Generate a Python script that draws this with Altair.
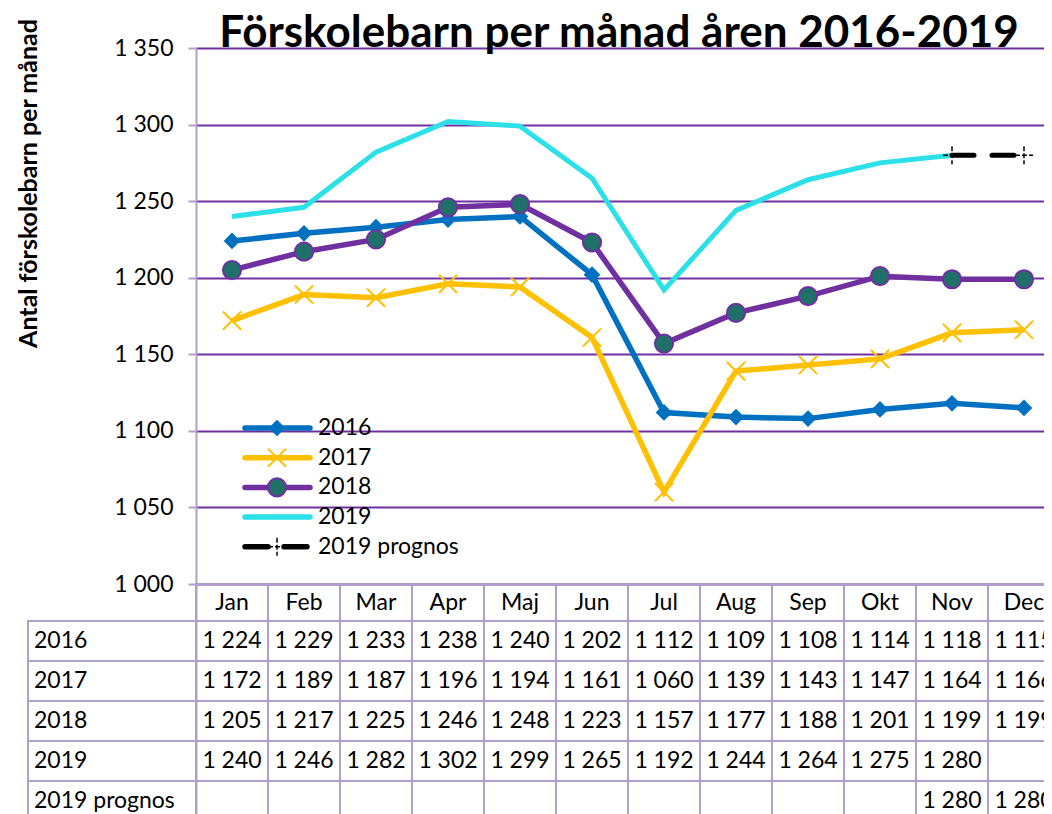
import altair as alt
import pandas as pd

months = ["Jan", "Feb", "Mar", "Apr", "Maj", "Jun", "Jul", "Aug", "Sep", "Okt", "Nov", "Dec"]
v2016 = [1224, 1229, 1233, 1238, 1240, 1202, 1112, 1109, 1108, 1114, 1118, 1115]
v2017 = [1172, 1189, 1187, 1196, 1194, 1161, 1060, 1139, 1143, 1147, 1164, 1166]
v2018 = [1205, 1217, 1225, 1246, 1248, 1223, 1157, 1177, 1188, 1201, 1199, 1199]
v2019 = [1240, 1246, 1282, 1302, 1299, 1265, 1192, 1244, 1264, 1275, 1280, None]
vprog = [None] * 10 + [1280, 1280]
series_names = ["2016", "2017", "2018", "2019", "2019 prognos"]
series_vals = [v2016, v2017, v2018, v2019, vprog]
yticks = list(range(1000, 1351, 50))
title_text = "Förskolebarn per månad åren 2016-2019"

BLUE, AMBER, PURPLE, CYAN, BLACK = "#0070C0", "#FFC000", "#7030A0", "#2CE0E8", "#000000"
TEAL = "#1F7068"
LIGHT = "#B09FCA"
FONT = "Lato"

W, H = 864, 766
PX_PER_UNIT = 536 / 350
ymin = 1350 - H / PX_PER_UNIT

rows = []
for name, vals in zip(series_names, series_vals):
    for m, v in zip(months, vals):
        if v is not None:
            rows.append({"series": name, "month": m, "value": v})
df = pd.DataFrame(rows)

xenc = alt.X("month:N", sort=months, axis=None,
             scale=alt.Scale(domain=months, paddingInner=0, paddingOuter=0))
yscale = alt.Scale(domain=[ymin, 1350], nice=False, zero=False)
yaxis = alt.Axis(values=yticks,
                 labelExpr="replace(format(datum.value, ','), ',', ' ')",
                 labelFont=FONT, labelFontSize=23, labelColor="black", labelPadding=15,
                 tickColor=LIGHT, tickSize=8, tickWidth=2,
                 domainColor=LIGHT, domainWidth=2,
                 gridColor=PURPLE, gridWidth=2,
                 title="Antal förskolebarn per månad", titleFont=FONT, titleFontSize=25,
                 titleFontWeight="bold", titleColor="black", titleAngle=270,
                 titleX=-168, titleY=135, titleAlign="center", titleBaseline="middle")


def sub(name):
    return alt.Chart(df).transform_filter(alt.datum.series == name)


yenc = alt.Y("value:Q", scale=yscale, axis=yaxis)

l2016 = sub("2016").mark_line(color=BLUE, strokeWidth=5.5).encode(x=xenc, y=yenc)
p2016 = sub("2016").mark_point(shape="diamond", filled=True, color=BLUE, size=280, opacity=1).encode(x=xenc, y=yenc)
l2017 = sub("2017").mark_line(color=AMBER, strokeWidth=5.5).encode(x=xenc, y=yenc)
XPATH = "M-1,-1L1,1M-1,1L1,-1"
p2017 = sub("2017").mark_point(shape=XPATH, filled=False, stroke=AMBER, strokeWidth=2, size=330, opacity=1).encode(x=xenc, y=yenc)
l2018 = sub("2018").mark_line(color=PURPLE, strokeWidth=5.5).encode(x=xenc, y=yenc)
p2018 = sub("2018").mark_point(shape="circle", filled=True, fill=TEAL, stroke=PURPLE, strokeWidth=2, size=330, opacity=1).encode(x=xenc, y=yenc)
l2019 = sub("2019").mark_line(color=CYAN, strokeWidth=5).encode(x=xenc, y=yenc)
PLUS = "M0,-1V1M-1,0H1"
lprog = sub("2019 prognos").mark_line(color=BLACK, strokeWidth=5, strokeDash=[22, 18], strokeCap="round").encode(x=xenc, y=yenc)
pprog = sub("2019 prognos").mark_point(shape=PLUS, filled=False, stroke=BLACK, strokeWidth=1.5, size=324, opacity=1, strokeDash=[5, 2]).encode(x=xenc, y=yenc)

# legend (manual, inside plot)
leg = pd.DataFrame({"series": series_names,
                    "ly": [380 + 29.7 * i for i in range(len(series_names))]})
LX0, LX1, LXM, LXT = 49, 114, 81, 122


def lsub(name):
    return alt.Chart(leg).transform_filter(alt.datum.series == name)


legend_layers = []
for name, col, dash in [("2016", BLUE, None), ("2017", AMBER, None), ("2018", PURPLE, None),
                        ("2019", CYAN, None), ("2019 prognos", BLACK, [23, 16])]:
    kw = dict(color=col, strokeWidth=5.5, strokeCap="round")
    if dash:
        kw["strokeDash"] = dash
    legend_layers.append(lsub(name).mark_rule(**kw).encode(
        x=alt.value(LX0), x2=alt.value(LX1), y=alt.Y("ly:Q", scale=None)))
legend_layers.append(lsub("2016").mark_point(shape="diamond", filled=True, color=BLUE, size=280, opacity=1).encode(
    x=alt.value(LXM), y=alt.Y("ly:Q", scale=None)))
legend_layers.append(lsub("2017").mark_point(shape=XPATH, filled=False, stroke=AMBER, strokeWidth=2, size=330, opacity=1).encode(
    x=alt.value(LXM), y=alt.Y("ly:Q", scale=None)))
legend_layers.append(lsub("2018").mark_point(shape="circle", filled=True, fill=TEAL, stroke=PURPLE, strokeWidth=2, size=330, opacity=1).encode(
    x=alt.value(LXM), y=alt.Y("ly:Q", scale=None)))
legend_layers.append(lsub("2019 prognos").mark_point(shape=PLUS, filled=False, stroke=BLACK, strokeWidth=1.5, size=324, opacity=1, strokeDash=[5, 2]).encode(
    x=alt.value(LXM), y=alt.Y("ly:Q", scale=None)))
legend_layers.append(alt.Chart(leg).mark_text(align="left", baseline="middle", font=FONT, fontSize=23, color="black").encode(
    x=alt.value(LXT), y=alt.Y("ly:Q", scale=None), text="series:N"))

title_layer = alt.Chart(pd.DataFrame({"t": [title_text]})).mark_text(
    align="center", baseline="alphabetic", font=FONT, fontSize=44, fontWeight="bold", color="black"
).encode(x=alt.value(423), y=alt.value(-1), text="t:N")

main = alt.layer(l2016, p2016, l2017, p2017, l2018, p2018, l2019, lprog, pprog, *legend_layers, title_layer)

# data table
HEADER_H = 37 / 40
cells = []
for m in months:
    cells.append({"month": m, "top": -HEADER_H, "bottom": 0.0, "mid": -HEADER_H / 2, "text": m})
for r, (name, vals) in enumerate(zip(series_names, series_vals)):
    for m, v in zip(months, vals):
        txt = "" if v is None else f"{v:,}".replace(",", " ")
        cells.append({"month": m, "top": float(r), "bottom": r + 1.0, "mid": r + 0.5, "text": txt})
cdf = pd.DataFrame(cells)
labels = pd.DataFrame({"label": series_names,
                       "top": [float(i) for i in range(5)],
                       "bottom": [i + 1.0 for i in range(5)],
                       "mid": [i + 0.5 for i in range(5)]})

tscale = alt.Scale(domain=[-573 / 40, (H - 573) / 40], reverse=True, nice=False, zero=False)
trect = alt.Chart(cdf).mark_rect(fillOpacity=0, stroke=LIGHT, strokeWidth=2).encode(
    x=xenc, y=alt.Y("top:Q", scale=tscale, axis=None), y2="bottom:Q")
ttext = alt.Chart(cdf).mark_text(baseline="middle", font=FONT, fontSize=23, color="black").encode(
    x=xenc, y=alt.Y("mid:Q", scale=tscale, axis=None), text="text:N")
lrect = alt.Chart(labels).mark_rect(fillOpacity=0, stroke=LIGHT, strokeWidth=2).encode(
    x=alt.value(-168), x2=alt.value(0), y=alt.Y("top:Q", scale=tscale, axis=None), y2="bottom:Q")
ltext = alt.Chart(labels).mark_text(align="left", baseline="middle", font=FONT, fontSize=23, color="black").encode(
    x=alt.value(-162), y=alt.Y("mid:Q", scale=tscale, axis=None), text="label:N")
table = alt.layer(trect, lrect, ttext, ltext)

chart = alt.layer(main, table).resolve_scale(y="independent").properties(
    width=W, height=H,
    background="white",
    autosize=alt.AutoSizeParams(type="none"),
    padding={"left": 188, "top": 40, "right": -16, "bottom": 0},
).configure_view(stroke=None)

chart.save("out.html", embed_options={"renderer": "svg", "actions": False})
